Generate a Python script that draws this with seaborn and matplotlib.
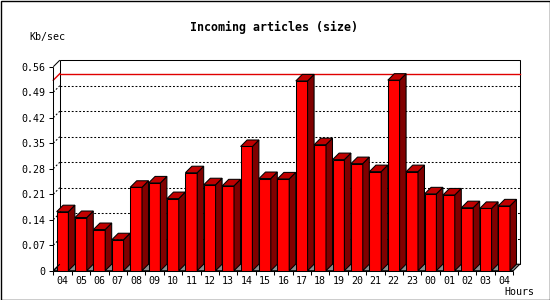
import numpy as np
import pandas as pd
import matplotlib
matplotlib.use("Agg")
import matplotlib.pyplot as plt
import seaborn as sns
from matplotlib.patches import Polygon, Rectangle

# ---- data ----
hours = ["04", "05", "06", "07", "08", "09", "10", "11", "12", "13", "14", "15",
         "16", "17", "18", "19", "20", "21", "22", "23", "00", "01", "02", "03", "04"]
kbps = [0.162, 0.146, 0.113, 0.085, 0.229, 0.241, 0.198, 0.269, 0.236, 0.233,
        0.341, 0.253, 0.252, 0.521, 0.346, 0.305, 0.294, 0.272, 0.523, 0.272,
        0.211, 0.208, 0.173, 0.171, 0.178]
yticks = [0, 0.07, 0.14, 0.21, 0.28, 0.35, 0.42, 0.49, 0.56]
ytick_labels = ["0", "0.07", "0.14", "0.21", "0.28", "0.35", "0.42", "0.49", "0.56"]
title = "Incoming articles (size)"
y_unit = "Kb/sec"
x_unit = "Hours"

# ---- style ----
FRONT = "#ff0000"
SIDE = "#800000"
TOP = "#c00000"
FLOOR = "#8c8c8c"
DEPTH_PX = 6.5
MONO = "DejaVu Sans Mono"
LW = 0.75

fig = plt.figure(figsize=(5.5, 3), dpi=100)
ax = fig.add_axes([53.3 / 550, (300 - 270.7) / 300, 460 / 550, 204 / 300])

df = pd.DataFrame({"slot": np.arange(len(hours)), "kbps": kbps})
sns.barplot(data=df, x="slot", y="kbps", color=FRONT, saturation=1, width=0.64,
            edgecolor="black", linewidth=LW, ax=ax, zorder=5)

xmin, xmax = -0.5, len(hours) - 0.5
ymin, ymax = yticks[0], yticks[-1]
ax.set_xlim(xmin, xmax)
ax.set_ylim(ymin, ymax)

# depth offset in data units
p0 = ax.transData.transform((0, 0))
dd = ax.transData.inverted().transform(p0 + np.array([DEPTH_PX, DEPTH_PX]))
ddx, ddy = dd[0], dd[1]

# back plane
ax.add_patch(Rectangle((xmin + ddx, ymin + ddy), xmax - xmin, ymax - ymin,
                       facecolor="white", edgecolor="black", linewidth=LW,
                       zorder=1, clip_on=False))
# floor
ax.add_patch(Polygon([(xmin, 0), (xmax, 0), (xmax + ddx, ddy), (xmin + ddx, ddy)],
                     closed=True, facecolor=FLOOR, edgecolor="black", linewidth=LW,
                     zorder=2, clip_on=False))

dots = dict(color="black", linewidth=LW, linestyle=(0, (1.8, 1.8)), zorder=1.5, clip_on=False)
for v in yticks[1:-1]:
    ax.plot([xmin + ddx, xmax + ddx], [v + ddy, v + ddy], **dots)
    ax.plot([xmin, xmin + ddx], [v, v + ddy], **dots)

# max line
vmax = max(kbps)
ax.plot([xmin + ddx, xmax + ddx], [vmax + ddy, vmax + ddy], color="#e00000",
        linewidth=1.0, zorder=1.6, clip_on=False)
ax.plot([xmin, xmin + ddx], [vmax, vmax + ddy], color="#e00000",
        linewidth=1.0, zorder=1.6, clip_on=False)

# frame lines
frame = dict(color="black", linewidth=LW, zorder=10, clip_on=False, solid_capstyle="butt")
ax.plot([xmin, xmin], [ymin, ymax], **frame)
ax.plot([xmin, xmax], [ymin, ymin], **frame)
ax.plot([xmin, xmin + ddx], [ymax, ymax + ddy], **frame)
ax.plot([xmin, xmin + ddx], [ymin, ymin + ddy], **frame)

# 3D sides and tops for each bar
bars = list(ax.patches)
bars = [b for b in bars if isinstance(b, Rectangle) and b.get_facecolor()[0] > 0.9 and b.get_facecolor()[1] < 0.1]
for b in bars:
    x0, w, h = b.get_x(), b.get_width(), b.get_height()
    x1 = x0 + w
    ax.add_patch(Polygon([(x1, 0), (x1 + ddx, ddy), (x1 + ddx, h + ddy), (x1, h)],
                         closed=True, facecolor=SIDE, edgecolor="black",
                         linewidth=LW, zorder=5, clip_on=False))
    ax.add_patch(Polygon([(x0, h), (x1, h), (x1 + ddx, h + ddy), (x0 + ddx, h + ddy)],
                         closed=True, facecolor=TOP, edgecolor="black",
                         linewidth=LW, zorder=5, clip_on=False))

for s in ax.spines.values():
    s.set_visible(False)
ax.set_facecolor("none")
ax.set_xlabel("")
ax.set_ylabel("")

ax.set_yticks(yticks, ytick_labels)
ax.tick_params(axis="y", length=3, width=LW, pad=2.5, labelsize=7.2, direction="out")
ax.set_xticks(np.arange(len(hours)), hours)
ax.set_xticks(np.arange(len(hours) + 1) - 0.5, minor=True)
ax.tick_params(axis="x", which="major", length=0, pad=4, labelsize=7.2)
ax.tick_params(axis="x", which="minor", length=3, width=LW, direction="out")
for lab in ax.get_xticklabels() + ax.get_yticklabels():
    lab.set_family(MONO)

fig.text(274 / 550, 1 - 27 / 300, title, ha="center", va="center",
         fontsize=8.4, fontweight="bold", family=MONO)
fig.text(29 / 550, 1 - 37 / 300, y_unit, ha="left", va="center",
         fontsize=7.2, family=MONO)
fig.text(534 / 550, 1 - 292 / 300, x_unit, ha="right", va="center",
         fontsize=7.2, family=MONO)

fig.add_artist(Rectangle((0.5 / 550, 0.5 / 300), 549 / 550, 299 / 300,
                         transform=fig.transFigure, fill=False,
                         edgecolor="black", linewidth=1.0))

fig.savefig("out.png", dpi=100, facecolor="white")
